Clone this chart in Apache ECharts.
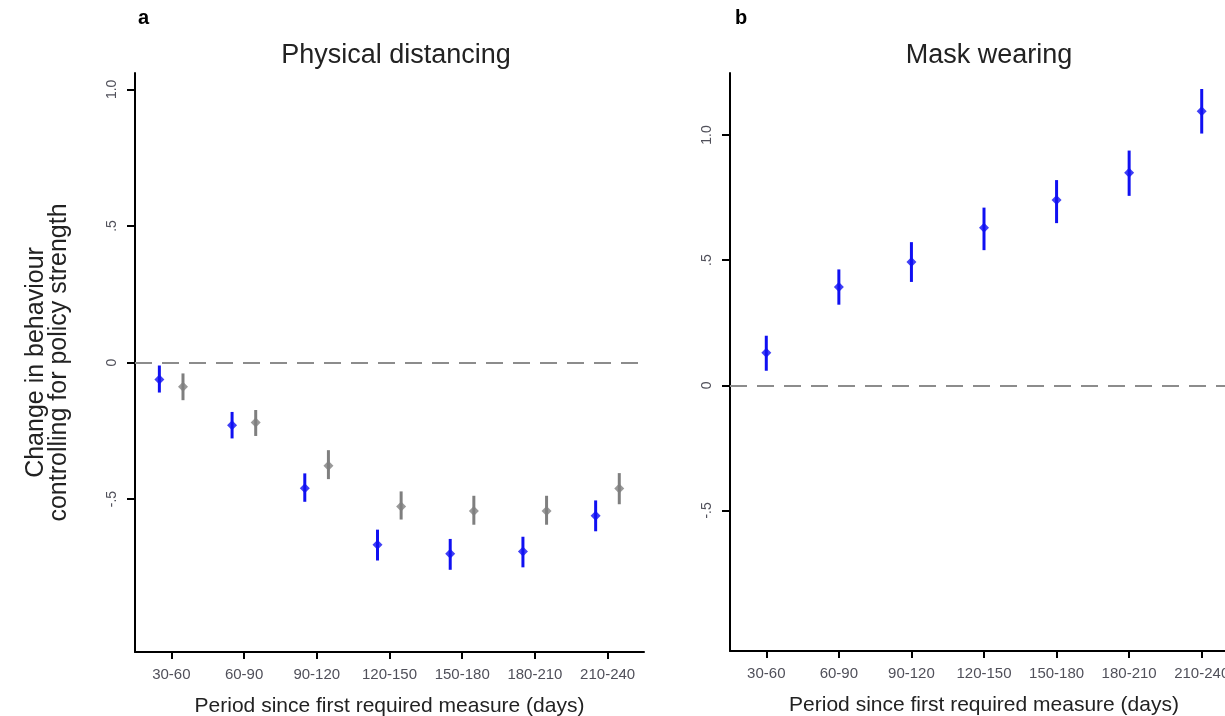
<!DOCTYPE html>
<html><head><meta charset="utf-8">
<script src="https://cdn.jsdelivr.net/npm/echarts@6/dist/echarts.min.js"></script>
<style>html,body{margin:0;padding:0;background:#fff}#c{width:1225px;height:716px}</style>
</head><body><div id="c"></div>
<script>
const categories = ['30-60','60-90','90-120','120-150','150-180','180-210','210-240'];
const yTickValues = [-0.5, 0, 0.5, 1.0];
const yTickLabels = ['-.5', '0', '.5', '1.0'];

// Panel a: Physical distancing
const distBlue   = [-0.062, -0.230, -0.460, -0.667, -0.700, -0.692, -0.561];
const distBlueLo = [-0.110, -0.278, -0.510, -0.725, -0.759, -0.750, -0.618];
const distBlueHi = [-0.011, -0.181, -0.406, -0.612, -0.646, -0.638, -0.505];
const distGrey   = [-0.089, -0.220, -0.378, -0.527, -0.544, -0.544, -0.461];
const distGreyLo = [-0.138, -0.269, -0.427, -0.575, -0.594, -0.594, -0.519];
const distGreyHi = [-0.040, -0.174, -0.321, -0.472, -0.488, -0.488, -0.405];

// Panel b: Mask wearing
const maskVals = [0.130, 0.393, 0.493, 0.630, 0.740, 0.849, 1.095];
const maskLo   = [0.058, 0.322, 0.413, 0.540, 0.648, 0.757, 1.006];
const maskHi   = [0.198, 0.463, 0.572, 0.710, 0.820, 0.938, 1.184];

const BLUE = '#1010f2', GREY = '#7f7f7f';
const FONT = 'Liberation Sans';

function labelFor(v){ const i = yTickValues.findIndex(t => Math.abs(t - v) < 1e-9); return i >= 0 ? yTickLabels[i] : ''; }

function errSeries(xi, yi, vals, lo, hi, off, color){
  return [{
    type: 'custom', xAxisIndex: xi, yAxisIndex: yi, z: 3,
    data: vals.map((v, i) => [i + 1 + off, lo[i], hi[i]]),
    encode: {x: 0, y: [1, 2]},
    renderItem: function(params, api){
      const x = api.value(0);
      const p1 = api.coord([x, api.value(1)]);
      const p2 = api.coord([x, api.value(2)]);
      return {type: 'line', shape: {x1: p1[0], y1: p1[1], x2: p2[0], y2: p2[1]},
              style: {stroke: color, lineWidth: 3}};
    }
  }, {
    type: 'scatter', xAxisIndex: xi, yAxisIndex: yi, z: 4,
    symbol: 'diamond', symbolSize: 10,
    itemStyle: {color: color},
    data: vals.map((v, i) => [i + 1 + off, v])
  }];
}

function zeroLine(xi, yi){
  return {
    type: 'line', xAxisIndex: xi, yAxisIndex: yi, data: [], silent: true,
    markLine: {silent: true, symbol: 'none', label: {show: false},
      lineStyle: {color: '#8c8c8c', width: 2, type: [17, 10]},
      data: [{yAxis: 0}]}
  };
}

const catAxis = (gi) => ({
  type: 'category', gridIndex: gi, data: categories,
  axisLine: {onZero: false, lineStyle: {color: '#000', width: 2}},
  axisTick: {show: true, alignWithLabel: true, length: 7, lineStyle: {color: '#000', width: 2}},
  axisLabel: {interval: 0, color: '#50505a', fontFamily: FONT, fontSize: 15, margin: 15},
  name: 'Period since first required measure (days)', nameLocation: 'middle', nameGap: 44,
  nameTextStyle: {color: '#222', fontFamily: FONT, fontSize: 21}
});
const valX = (gi) => ({type: 'value', gridIndex: gi, min: 0.5, max: 7.5, show: false});
const yAx = (gi, mn, mx, withName) => ({
  type: 'value', gridIndex: gi, min: mn, max: mx,
  splitLine: {show: false},
  axisLine: {show: true, onZero: false, lineStyle: {color: '#000', width: 2}},
  axisTick: {show: true, length: 8, lineStyle: {color: '#000', width: 2}, customValues: yTickValues},
  axisLabel: {rotate: 90, color: '#50505a', fontFamily: FONT, fontSize: 14, margin: 16,
              customValues: yTickValues, formatter: labelFor},
  name: withName ? 'Change in behaviour\ncontrolling for policy strength' : '',
  nameLocation: 'middle', nameGap: 64, nameRotate: 90,
  nameTextStyle: {color: '#222', fontFamily: FONT, fontSize: 25, lineHeight: 23, align: 'center'}
});

const chart = echarts.init(document.getElementById('c'), null, {renderer: 'canvas'});
chart.setOption({
  backgroundColor: '#fff',
  animation: false,
  title: [
    {text: 'a', left: 133, top: 3, textStyle: {fontFamily: FONT, fontSize: 20, fontWeight: 'bold', color: '#000'}},
    {text: 'b', left: 730, top: 3, textStyle: {fontFamily: FONT, fontSize: 20, fontWeight: 'bold', color: '#000'}},
    {text: 'Physical distancing', left: 391, top: 37, textAlign: 'center',
     textStyle: {fontFamily: FONT, fontSize: 27, fontWeight: 'normal', color: '#222'}},
    {text: 'Mask wearing', left: 984, top: 37, textAlign: 'center',
     textStyle: {fontFamily: FONT, fontSize: 27, fontWeight: 'normal', color: '#222'}}
  ],
  grid: [
    {left: 135, right: 1225 - 644, top: 73, bottom: 716 - 652, outerBoundsMode: 'none', containLabel: false},
    {left: 730, right: -13, top: 73, bottom: 716 - 651, outerBoundsMode: 'none', containLabel: false}
  ],
  xAxis: [catAxis(0), valX(0), catAxis(1), valX(1)],
  yAxis: [yAx(0, -1.06, 1.06, true), yAx(1, -1.062, 1.248, false)],
  series: [
    zeroLine(1, 0),
    ...errSeries(1, 0, distBlue, distBlueLo, distBlueHi, -0.165, BLUE),
    ...errSeries(1, 0, distGrey, distGreyLo, distGreyHi, 0.16, GREY),
    zeroLine(3, 1),
    ...errSeries(3, 1, maskVals, maskLo, maskHi, 0, BLUE)
  ]
});
</script></body></html>
